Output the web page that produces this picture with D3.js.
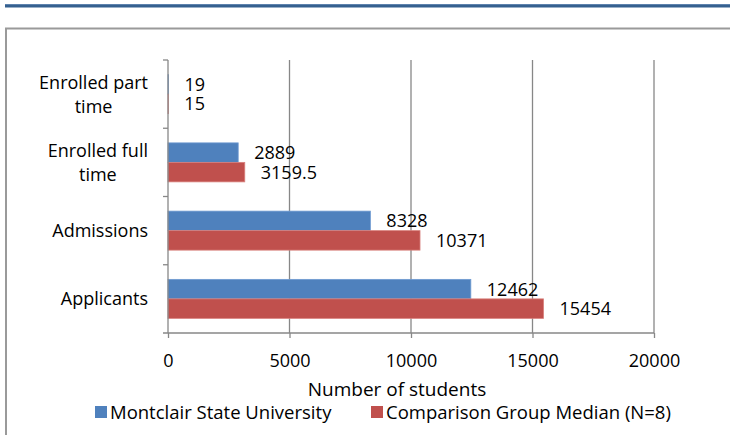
<!DOCTYPE html>
<html>
<head>
<meta charset="utf-8">
<script src="https://cdn.jsdelivr.net/npm/d3@7"></script>
<style>
  body { margin: 0; background: #fff; }
  svg { display: block; font-family: "Open Sans", sans-serif; }
</style>
</head>
<body>
<script>
// data
var categories = ["Applicants", "Admissions", "Enrolled full time", "Enrolled part time"];
var seriesNames = ["Montclair State University", "Comparison Group Median (N=8)"];
var montclair = [12462, 8328, 2889, 19];
var median = [15454, 10371, 3159.5, 15];
var xTicks = [0, 5000, 10000, 15000, 20000];

var colors = ["#4f81bd", "#c0504d"],
    strokes = ["#6f9bd1", "#d9807d"];

var width = 730, height = 435,
    plot = {left: 168, right: 654, top: 60, bottom: 333};

var svg = d3.select("body").append("svg")
    .attr("width", width)
    .attr("height", height);

// page header rule + chart frame
svg.append("rect").attr("x", 5).attr("y", 4).attr("width", width).attr("height", 3.5).attr("fill", "#35608f");
svg.append("line").attr("x1", 5).attr("x2", width).attr("y1", 4.5).attr("y2", 4.5).attr("stroke", "#5d82ad").attr("stroke-width", 1);
svg.append("rect")
    .attr("x", 6).attr("y", 28.5)
    .attr("width", width + 20).attr("height", height)
    .attr("fill", "none")
    .attr("stroke", "#9a9a9a")
    .attr("stroke-width", 2);

var x = d3.scaleLinear()
    .domain([0, 20000])
    .range([plot.left, plot.right]);

var y0 = d3.scaleBand()
    .domain(categories)
    .range([plot.bottom, plot.top]);

var y1 = d3.scaleBand()
    .domain([0, 1])
    .range([0, y0.bandwidth()])
    .paddingOuter(0.75)
    .paddingInner(0);

var rows = categories.map(function(c, i) {
  return {cat: c, values: [montclair[i], median[i]]};
});

// gridlines
svg.append("g")
  .selectAll("line")
  .data(xTicks.slice(1))
  .enter().append("line")
    .attr("x1", function(d) { return x(d); })
    .attr("x2", function(d) { return x(d); })
    .attr("y1", plot.top)
    .attr("y2", plot.bottom)
    .attr("stroke", "#878787")
    .attr("stroke-width", 1.3);

// bars
var grp = svg.append("g")
  .selectAll("g")
  .data(rows)
  .enter().append("g")
    .attr("transform", function(d) { return "translate(0," + y0(d.cat) + ")"; });

grp.selectAll("rect")
  .data(function(d) { return d.values; })
  .enter().append("rect")
    .attr("x", x(0))
    .attr("y", function(d, i) { return y1(i); })
    .attr("width", function(d) { return x(d) - x(0); })
    .attr("height", y1.bandwidth())
    .attr("fill", function(d, i) { return colors[i]; })
    .attr("stroke", function(d, i) { return strokes[i]; })
    .attr("stroke-width", 0.8);

grp.selectAll("text")
  .data(function(d) { return d.values; })
  .enter().append("text")
    .attr("x", function(d) { return x(d) + 16; })
    .attr("y", function(d, i) { return y1(i) + y1.bandwidth() / 2; })
    .attr("dy", "0.36em")
    .attr("font-size", 18)
    .attr("fill", "#000")
    .text(function(d) { return String(d); });

// left axis
var yAxis = svg.append("g")
    .attr("transform", "translate(" + plot.left + ",0)");
yAxis.append("line")
    .attr("y1", plot.top).attr("y2", plot.bottom)
    .attr("stroke", "#878787").attr("stroke-width", 1.3);
yAxis.selectAll(".tk")
  .data(categories)
  .enter().append("line")
    .attr("x1", -5).attr("x2", 0)
    .attr("y1", function(d) { return y0(d); })
    .attr("y2", function(d) { return y0(d); })
    .attr("stroke", "#878787").attr("stroke-width", 1.3);

// category labels, wrapped like excel
var catLabel = svg.append("g")
  .selectAll("text")
  .data(categories)
  .enter().append("text")
    .attr("font-size", 18)
    .attr("fill", "#000")
    .attr("text-anchor", "middle");

catLabel.each(function(d) {
  var t = d3.select(this), words = d.split(" "), lines = [], cur = [];
  var probe = t.append("tspan");
  words.forEach(function(w) {
    var test = cur.concat([w]).join(" ");
    probe.text(test);
    if (probe.node().getComputedTextLength() > 125 && cur.length) {
      lines.push(cur.join(" "));
      cur = [w];
    } else {
      cur.push(w);
    }
  });
  lines.push(cur.join(" "));
  var maxW = 0;
  lines.forEach(function(l) {
    probe.text(l);
    maxW = Math.max(maxW, probe.node().getComputedTextLength());
  });
  probe.remove();
  var cx = 148 - maxW / 2,
      cy = y0(d) + y0.bandwidth() / 2,
      lh = 24;
  lines.forEach(function(l, i) {
    t.append("tspan")
      .attr("x", cx)
      .attr("y", cy + (i - (lines.length - 1) / 2) * lh)
      .attr("dy", "0.36em")
      .text(l);
  });
});

// bottom axis
var xAxis = svg.append("g")
    .attr("transform", "translate(0," + plot.bottom + ")")
    .call(d3.axisBottom(x).tickValues(xTicks).tickFormat(d3.format("d"))
      .tickSize(5).tickPadding(16).tickSizeOuter(0));
xAxis.select(".domain")
    .attr("d", "M" + (plot.left - 5) + ",0H" + plot.right)
    .attr("stroke", "#878787").attr("stroke-width", 1.3);
xAxis.selectAll(".tick line").attr("stroke", "#878787").attr("stroke-width", 1.3);
xAxis.selectAll(".tick text")
    .attr("font-size", 18)
    .attr("font-family", "Open Sans, sans-serif")
    .attr("fill", "#000");

svg.append("text")
    .attr("x", 397)
    .attr("y", 389)
    .attr("dy", "0.36em")
    .attr("text-anchor", "middle")
    .attr("font-size", 19)
    .text("Number of students");

// legend
var legendX = [95, 371];
var leg = svg.append("g")
  .selectAll("g")
  .data(seriesNames)
  .enter().append("g")
    .attr("transform", function(d, i) { return "translate(" + legendX[i] + ",412)"; });
leg.append("rect")
    .attr("x", 0).attr("y", -6)
    .attr("width", 12).attr("height", 12)
    .attr("fill", function(d, i) { return colors[i]; });
leg.append("text")
    .attr("x", 15)
    .attr("dy", "0.36em")
    .attr("font-size", 18.5)
    .text(function(d) { return d; });
</script>
</body>
</html>
